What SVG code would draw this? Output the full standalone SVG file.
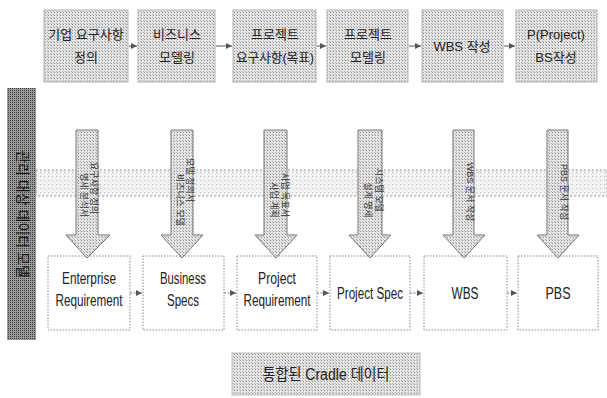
<svg xmlns="http://www.w3.org/2000/svg" width="607" height="398" viewBox="0 0 607 398">
<defs>
<pattern id="dots" width="3" height="3" patternUnits="userSpaceOnUse">
<rect width="3" height="3" fill="#e4e4e4"/><rect width="1" height="1" fill="#8c8c8c"/><rect x="2" y="2" width="1" height="1" fill="#b0b0b0"/>
</pattern>
<pattern id="dark" width="2" height="2" patternUnits="userSpaceOnUse">
<rect width="2" height="2" fill="#9a9a9a"/><rect width="1" height="1" fill="#3c3c3c"/>
</pattern>
<pattern id="light" width="4" height="4" patternUnits="userSpaceOnUse">
<rect width="4" height="4" fill="#f2f2f2"/><rect width="1" height="1" fill="#c0c0c0"/>
</pattern>
<marker id="ah" markerWidth="8" markerHeight="8" refX="6" refY="3" orient="auto" markerUnits="userSpaceOnUse">
<path d="M0,0 L6,3 L0,6 Z" fill="#555"/>
</marker>
</defs>
<style>
.top{fill:url(#dots);stroke:#b5b5b5;stroke-width:1}
.bot{fill:#fff;stroke:#8a8a8a;stroke-width:1;stroke-dasharray:1.5 1.5}
.t{font-family:"Liberation Sans","Noto Sans CJK KR",sans-serif;font-size:13px;fill:#222;text-anchor:middle}
.b{font-family:"Liberation Sans","Noto Sans CJK KR",sans-serif;font-size:16px;fill:#222;text-anchor:middle}
.a{font-family:"Liberation Sans","Noto Sans CJK KR",sans-serif;font-size:9px;fill:#333;text-anchor:middle}
.arr{fill:url(#dots);stroke:#777;stroke-width:1}
.c{stroke:#555;stroke-width:1;fill:none;marker-end:url(#ah)}
.cd{stroke:#777;stroke-width:1;fill:none;stroke-dasharray:2 1.5;marker-end:url(#ah)}
</style>
<rect x="36" y="170" width="571" height="26" fill="url(#light)" stroke="#999" stroke-width="1" stroke-dasharray="2 2"/>
<g id="side">
<rect x="7" y="88" width="29" height="252" fill="url(#dark)"/>
<text transform="translate(22,214) rotate(90)" font-family="'Liberation Sans','Noto Sans CJK KR',sans-serif" font-size="14" fill="#111" text-anchor="middle" dominant-baseline="middle">관리 대상 데이터 모델</text>
</g>
<g id="t1"><rect class="top" x="44" y="10" width="84" height="72"/><text class="t" x="86" y="39">기업 요구사항</text><text class="t" x="86" y="62">정의</text></g>
<g id="t2"><rect class="top" x="138" y="10" width="77" height="72"/><text class="t" x="177" y="39">비즈니스</text><text class="t" x="177" y="62">모델링</text></g>
<g id="t3"><rect class="top" x="233" y="10" width="83" height="72"/><text class="t" x="275" y="39">프로젝트</text><text class="t" x="275" y="62" textLength="78" lengthAdjust="spacingAndGlyphs">요구사항(목표)</text></g>
<g id="t4"><rect class="top" x="327" y="10" width="81" height="72"/><text class="t" x="368" y="39">프로젝트</text><text class="t" x="368" y="62">모델링</text></g>
<g id="t5"><rect class="top" x="422" y="10" width="81" height="72"/><text class="t" x="462" y="51">WBS 작성</text></g>
<g id="t6"><rect class="top" x="516" y="10" width="81" height="72"/><text class="t" x="556" y="39">P(Project)</text><text class="t" x="556" y="62">BS작성</text></g>
<g id="b1"><rect class="bot" x="48" y="256" width="82" height="74"/><text class="b" x="89" y="284" textLength="54" lengthAdjust="spacingAndGlyphs">Enterprise</text><text class="b" x="89" y="306" textLength="67" lengthAdjust="spacingAndGlyphs">Requirement</text></g>
<g id="b2"><rect class="bot" x="143" y="256" width="81" height="74"/><text class="b" x="183" y="284" textLength="46" lengthAdjust="spacingAndGlyphs">Business</text><text class="b" x="183" y="306" textLength="32" lengthAdjust="spacingAndGlyphs">Specs</text></g>
<g id="b3"><rect class="bot" x="237" y="256" width="80" height="74"/><text class="b" x="277" y="284" textLength="38" lengthAdjust="spacingAndGlyphs">Project</text><text class="b" x="277" y="306" textLength="67" lengthAdjust="spacingAndGlyphs">Requirement</text></g>
<g id="b4"><rect class="bot" x="330" y="256" width="80" height="74"/><text class="b" x="370" y="299" textLength="66" lengthAdjust="spacingAndGlyphs">Project Spec</text></g>
<g id="b5"><rect class="bot" x="424" y="256" width="83" height="74"/><text class="b" x="465" y="299" textLength="27" lengthAdjust="spacingAndGlyphs">WBS</text></g>
<g id="b6"><rect class="bot" x="518" y="256" width="80" height="74"/><text class="b" x="558" y="299" textLength="25" lengthAdjust="spacingAndGlyphs">PBS</text></g>
<g id="arrows">
<path class="arr" d="M76,130 H98 V235 H110 L87,258 L66,235 H76 Z"/>
<path class="arr" d="M171,130 H193 V235 H203 L182,258 L161,235 H171 Z"/>
<path class="arr" d="M264,130 H287 V235 H297 L276,258 L255,235 H264 Z"/>
<path class="arr" d="M358,130 H382 V235 H391 L370,258 L349,235 H358 Z"/>
<path class="arr" d="M453,130 H474 V235 H485 L464,258 L443,235 H453 Z"/>
<path class="arr" d="M547,130 H568 V235 H579 L558,258 L537,235 H547 Z"/>
<text class="a" transform="translate(91,188) rotate(90)">요구사항 정의</text>
<text class="a" transform="translate(81,195) rotate(90)">명세 분석서</text>
<text class="a" transform="translate(187,180) rotate(90)">모델 정의서</text>
<text class="a" transform="translate(177,200) rotate(90)">비즈니스 모델</text>
<text class="a" transform="translate(282,195) rotate(90)">사업 목표서</text>
<text class="a" transform="translate(271,200) rotate(90)">사업 계획</text>
<text class="a" transform="translate(376,190) rotate(90)">시스템 모델</text>
<text class="a" transform="translate(365,200) rotate(90)">설계 명세</text>
<text class="a" transform="translate(467,192) rotate(90)">WBS 문서 작성</text>
<text class="a" transform="translate(561,192) rotate(90)">PBS 문서 작성</text>
</g>
<g id="connectors">
<line class="c" x1="129" y1="46" x2="137" y2="46"/>
<line class="c" x1="216" y1="46" x2="232" y2="46"/>
<line class="c" x1="317" y1="46" x2="326" y2="46"/>
<line class="c" x1="409" y1="46" x2="421" y2="46"/>
<line class="c" x1="504" y1="46" x2="515" y2="46"/>
<line class="cd" x1="130" y1="293" x2="142" y2="293"/>
<line class="cd" x1="224" y1="293" x2="236" y2="293"/>
<line class="cd" x1="317" y1="293" x2="329" y2="293"/>
<line class="cd" x1="410" y1="293" x2="423" y2="293"/>
<line class="cd" x1="507" y1="293" x2="517" y2="293"/>
</g>
<g id="cradle"><rect x="232" y="353" width="188" height="42" fill="url(#dots)" stroke="#bbb"/><text class="b" x="326" y="380" textLength="127" lengthAdjust="spacingAndGlyphs">통합된 Cradle 데이터</text></g>
</svg>
